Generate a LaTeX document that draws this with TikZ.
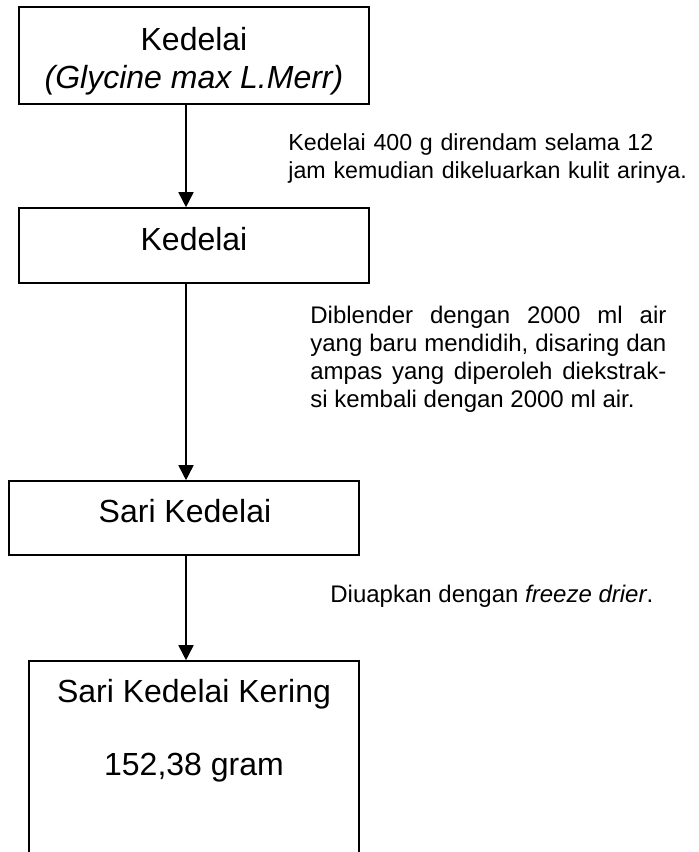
\documentclass[tikz,border=0pt]{standalone}
\usepackage{fontspec}
\setmainfont{Liberation Sans}
\usetikzlibrary{arrows.meta}

\begin{document}
\begin{tikzpicture}[x=0.5pt, y=-0.5pt,
  stepbox/.style={draw, line width=0.8pt, inner sep=0pt, minimum width=175pt},
  boxtext/.style={font=\fontsize{16}{18.4}\selectfont, anchor=base, inner sep=0pt},
  note/.style={font=\fontsize{12}{14}\selectfont, anchor=base west, inner sep=0pt},
  flow/.style={-{Triangle[width=7.5pt, length=7.5pt]}, line width=0.8pt}]
  \useasboundingbox (0,0) rectangle (699,852);
  \clip (0,0) rectangle (699,852);

  % boxes
  \node[stepbox, minimum height=48.5pt] (raw) at (194,55.5) {};
  \node[stepbox, minimum height=37.5pt] (peeled) at (194,245.5) {};
  \node[stepbox, minimum height=37pt] (milk) at (184,518) {};
  \node[stepbox, minimum width=165pt, minimum height=119.5pt] (dry) at (194,780.5) {};

  \node[boxtext] (rawname) at (194,50) {Kedelai};
  \node[boxtext] (rawlatin) at (194,88) {\itshape (Glycine max L.Merr)};
  \node[boxtext] (peeledname) at (194,250) {Kedelai};
  \node[boxtext] (milkname) at (185,522) {Sari Kedelai};
  \node[boxtext] (dryname) at (194,702) {Sari Kedelai Kering};
  \node[boxtext] (drymass) at (194,775) {152,38 gram};

  % arrows
  \coordinate (spine) at (186,0);
  \draw[flow] (raw.south -| spine) -- (peeled.north -| spine);
  \draw[flow] (peeled.south -| spine) -- (milk.north -| spine);
  \draw[flow] (milk.south -| spine) -- (dry.north -| spine);

  % process notes
  \node[note, font=\fontsize{11.6}{14}\selectfont, text width=204pt, align=left] (soak) at (288,150)
    {Kedelai 400 g direndam selama 12\\jam kemudian dikeluarkan kulit arinya.};
  \node[note, text width=178pt, align=justify] (blend) at (310,323)
    {Diblender dengan 2000 ml air\linebreak yang baru mendidih, disaring dan\linebreak ampas yang diperoleh diekstrak-\linebreak si kembali dengan 2000 ml air.};
  \node[note] (freeze) at (330,602) {Diuapkan dengan \textit{freeze drier}.};

\end{tikzpicture}
\end{document}
